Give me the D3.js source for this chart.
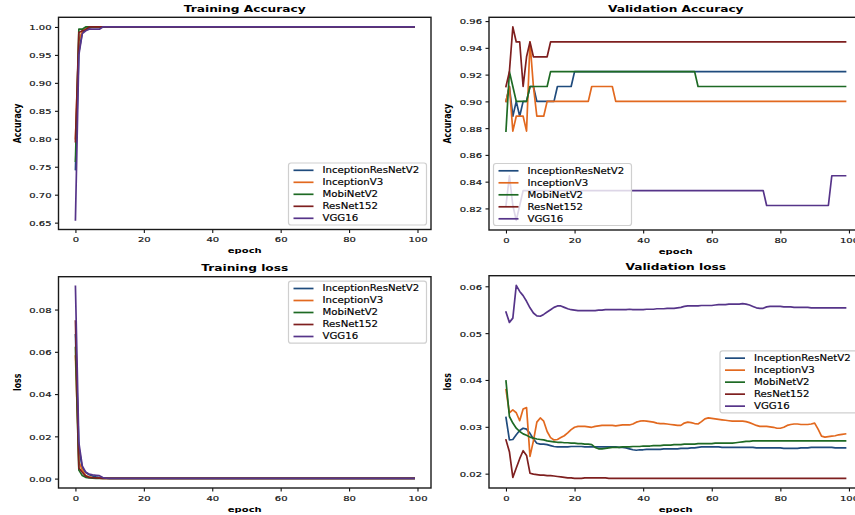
<!DOCTYPE html>
<html><head><meta charset="utf-8">
<script src="https://cdn.jsdelivr.net/npm/d3@7"></script>
<style>body{margin:0;background:#fff}svg{display:block}</style>
</head><body><svg id="c" width="855" height="515"></svg>
<script>
// ---------------- DATA ----------------
const epochs = d3.range(100);
const seriesNames = ["InceptionResNetV2", "InceptionV3", "MobiNetV2", "ResNet152", "VGG16"];
const seriesColors = ["#1f4b7d", "#e2691f", "#1e6a24", "#7e1f1f", "#563489"];
const xTickValues = [0, 20, 40, 60, 80, 100];
const trainAccTicks = [0.65, 0.70, 0.75, 0.80, 0.85, 0.90, 0.95, 1.00];
const valAccTicks = [0.82, 0.84, 0.86, 0.88, 0.90, 0.92, 0.94, 0.96];
const trainLossTicks = [0.00, 0.02, 0.04, 0.06, 0.08];
const valLossTicks = [0.02, 0.03, 0.04, 0.05, 0.06];

// Training accuracy
const trainAccIRV2 = [
0.745,0.955,0.990,0.995,0.998,1,1,1,1,1,
1,1,1,1,1,1,1,1,1,1, 1,1,1,1,1,1,1,1,1,1, 1,1,1,1,1,1,1,1,1,1,
1,1,1,1,1,1,1,1,1,1, 1,1,1,1,1,1,1,1,1,1, 1,1,1,1,1,1,1,1,1,1,
1,1,1,1,1,1,1,1,1,1, 1,1,1,1,1,1,1,1,1,1, 1,1,1,1,1,1,1,1,1,1];
const trainAccIV3 = [
0.800,0.975,0.993,0.997,1,1,1,1,1,1,
1,1,1,1,1,1,1,1,1,1, 1,1,1,1,1,1,1,1,1,1, 1,1,1,1,1,1,1,1,1,1,
1,1,1,1,1,1,1,1,1,1, 1,1,1,1,1,1,1,1,1,1, 1,1,1,1,1,1,1,1,1,1,
1,1,1,1,1,1,1,1,1,1, 1,1,1,1,1,1,1,1,1,1, 1,1,1,1,1,1,1,1,1,1];
const trainAccMob = [
0.760,0.996,0.996,1,1,1,1,1,1,1,
1,1,1,1,1,1,1,1,1,1, 1,1,1,1,1,1,1,1,1,1, 1,1,1,1,1,1,1,1,1,1,
1,1,1,1,1,1,1,1,1,1, 1,1,1,1,1,1,1,1,1,1, 1,1,1,1,1,1,1,1,1,1,
1,1,1,1,1,1,1,1,1,1, 1,1,1,1,1,1,1,1,1,1, 1,1,1,1,1,1,1,1,1,1];
const trainAccRes = [
0.795,0.990,0.993,0.995,1,1,1,1,1,1,
1,1,1,1,1,1,1,1,1,1, 1,1,1,1,1,1,1,1,1,1, 1,1,1,1,1,1,1,1,1,1,
1,1,1,1,1,1,1,1,1,1, 1,1,1,1,1,1,1,1,1,1, 1,1,1,1,1,1,1,1,1,1,
1,1,1,1,1,1,1,1,1,1, 1,1,1,1,1,1,1,1,1,1, 1,1,1,1,1,1,1,1,1,1];
const trainAccVGG = [
0.655,0.950,0.988,0.993,0.996,0.996,0.996,0.996,1,1,
1,1,1,1,1,1,1,1,1,1, 1,1,1,1,1,1,1,1,1,1, 1,1,1,1,1,1,1,1,1,1,
1,1,1,1,1,1,1,1,1,1, 1,1,1,1,1,1,1,1,1,1, 1,1,1,1,1,1,1,1,1,1,
1,1,1,1,1,1,1,1,1,1, 1,1,1,1,1,1,1,1,1,1, 1,1,1,1,1,1,1,1,1,1];

// Validation accuracy
const valAccIRV2 = [
0.9000,0.9111,0.8889,0.9000,0.8889,0.9000,0.9000,0.9111,0.9111,0.9000,
0.9000,0.9000,0.9000,0.9000,0.9000,0.9111,0.9111,0.9111,0.9111,0.9111,
0.9222,0.9222,0.9222,0.9222,0.9222,0.9222,0.9222,0.9222,0.9222,0.9222,
0.9222,0.9222,0.9222,0.9222,0.9222,0.9222,0.9222,0.9222,0.9222,0.9222,
0.9222,0.9222,0.9222,0.9222,0.9222,0.9222,0.9222,0.9222,0.9222,0.9222,
0.9222,0.9222,0.9222,0.9222,0.9222,0.9222,0.9222,0.9222,0.9222,0.9222,
0.9222,0.9222,0.9222,0.9222,0.9222,0.9222,0.9222,0.9222,0.9222,0.9222,
0.9222,0.9222,0.9222,0.9222,0.9222,0.9222,0.9222,0.9222,0.9222,0.9222,
0.9222,0.9222,0.9222,0.9222,0.9222,0.9222,0.9222,0.9222,0.9222,0.9222,
0.9222,0.9222,0.9222,0.9222,0.9222,0.9222,0.9222,0.9222,0.9222,0.9222];
const valAccIV3 = [
0.9000,0.9111,0.8778,0.8889,0.8889,0.8889,0.8778,0.9444,0.9111,0.8889,
0.8889,0.8889,0.9000,0.9000,0.9000,0.9000,0.9000,0.9000,0.9000,0.9000,
0.9000,0.9000,0.9000,0.9000,0.9000,0.9111,0.9111,0.9111,0.9111,0.9111,
0.9111,0.9111,0.9000,0.9000,0.9000,0.9000,0.9000,0.9000,0.9000,0.9000,
0.9000,0.9000,0.9000,0.9000,0.9000,0.9000,0.9000,0.9000,0.9000,0.9000,
0.9000,0.9000,0.9000,0.9000,0.9000,0.9000,0.9000,0.9000,0.9000,0.9000,
0.9000,0.9000,0.9000,0.9000,0.9000,0.9000,0.9000,0.9000,0.9000,0.9000,
0.9000,0.9000,0.9000,0.9000,0.9000,0.9000,0.9000,0.9000,0.9000,0.9000,
0.9000,0.9000,0.9000,0.9000,0.9000,0.9000,0.9000,0.9000,0.9000,0.9000,
0.9000,0.9000,0.9000,0.9000,0.9000,0.9000,0.9000,0.9000,0.9000,0.9000];
const valAccMob = [
0.8778,0.9222,0.9111,0.9000,0.9000,0.9000,0.9000,0.9111,0.9111,0.9111,
0.9111,0.9111,0.9111,0.9222,0.9222,0.9222,0.9222,0.9222,0.9222,0.9222,
0.9222,0.9222,0.9222,0.9222,0.9222,0.9222,0.9222,0.9222,0.9222,0.9222,
0.9222,0.9222,0.9222,0.9222,0.9222,0.9222,0.9222,0.9222,0.9222,0.9222,
0.9222,0.9222,0.9222,0.9222,0.9222,0.9222,0.9222,0.9222,0.9222,0.9222,
0.9222,0.9222,0.9222,0.9222,0.9222,0.9222,0.9111,0.9111,0.9111,0.9111,
0.9111,0.9111,0.9111,0.9111,0.9111,0.9111,0.9111,0.9111,0.9111,0.9111,
0.9111,0.9111,0.9111,0.9111,0.9111,0.9111,0.9111,0.9111,0.9111,0.9111,
0.9111,0.9111,0.9111,0.9111,0.9111,0.9111,0.9111,0.9111,0.9111,0.9111,
0.9111,0.9111,0.9111,0.9111,0.9111,0.9111,0.9111,0.9111,0.9111,0.9111];
const valAccRes = [
0.9111,0.9222,0.9556,0.9444,0.9444,0.9111,0.9333,0.9444,0.9333,0.9333,
0.9333,0.9333,0.9333,0.9444,0.9444,0.9444,0.9444,0.9444,0.9444,0.9444,
0.9444,0.9444,0.9444,0.9444,0.9444,0.9444,0.9444,0.9444,0.9444,0.9444,
0.9444,0.9444,0.9444,0.9444,0.9444,0.9444,0.9444,0.9444,0.9444,0.9444,
0.9444,0.9444,0.9444,0.9444,0.9444,0.9444,0.9444,0.9444,0.9444,0.9444,
0.9444,0.9444,0.9444,0.9444,0.9444,0.9444,0.9444,0.9444,0.9444,0.9444,
0.9444,0.9444,0.9444,0.9444,0.9444,0.9444,0.9444,0.9444,0.9444,0.9444,
0.9444,0.9444,0.9444,0.9444,0.9444,0.9444,0.9444,0.9444,0.9444,0.9444,
0.9444,0.9444,0.9444,0.9444,0.9444,0.9444,0.9444,0.9444,0.9444,0.9444,
0.9444,0.9444,0.9444,0.9444,0.9444,0.9444,0.9444,0.9444,0.9444,0.9444];
const valAccVGG = [
0.8222,0.8444,0.8222,0.8111,0.8222,0.8333,0.8333,0.8333,0.8333,0.8333,
0.8333,0.8333,0.8333,0.8333,0.8333,0.8333,0.8333,0.8333,0.8333,0.8333,
0.8333,0.8333,0.8333,0.8333,0.8333,0.8333,0.8333,0.8333,0.8333,0.8333,
0.8333,0.8333,0.8333,0.8333,0.8333,0.8333,0.8333,0.8333,0.8333,0.8333,
0.8333,0.8333,0.8333,0.8333,0.8333,0.8333,0.8333,0.8333,0.8333,0.8333,
0.8333,0.8333,0.8333,0.8333,0.8333,0.8333,0.8333,0.8333,0.8333,0.8333,
0.8333,0.8333,0.8333,0.8333,0.8333,0.8333,0.8333,0.8333,0.8333,0.8333,
0.8333,0.8333,0.8333,0.8333,0.8333,0.8333,0.8222,0.8222,0.8222,0.8222,
0.8222,0.8222,0.8222,0.8222,0.8222,0.8222,0.8222,0.8222,0.8222,0.8222,
0.8222,0.8222,0.8222,0.8222,0.8222,0.8444,0.8444,0.8444,0.8444,0.8444];

// Training loss
const trainLossIRV2 = [
0.068,0.015,0.005,0.003,0.0018,0.0012,0.0008,0.0005,0.0003,0.0002,
0.0001,0.0001,0.0001,0.0001,0.0001,0.0001,0.0001,0.0001,0.0001,0.0001,
0.0001,0.0001,0.0001,0.0001,0.0001,0.0001,0.0001,0.0001,0.0001,0.0001,
0.0001,0.0001,0.0001,0.0001,0.0001,0.0001,0.0001,0.0001,0.0001,0.0001,
0.0001,0.0001,0.0001,0.0001,0.0001,0.0001,0.0001,0.0001,0.0001,0.0001,
0.0001,0.0001,0.0001,0.0001,0.0001,0.0001,0.0001,0.0001,0.0001,0.0001,
0.0001,0.0001,0.0001,0.0001,0.0001,0.0001,0.0001,0.0001,0.0001,0.0001,
0.0001,0.0001,0.0001,0.0001,0.0001,0.0001,0.0001,0.0001,0.0001,0.0001,
0.0001,0.0001,0.0001,0.0001,0.0001,0.0001,0.0001,0.0001,0.0001,0.0001,
0.0001,0.0001,0.0001,0.0001,0.0001,0.0001,0.0001,0.0001,0.0001,0.0001];
const trainLossIV3 = [
0.058,0.008,0.004,0.0015,0.0008,0.0005,0.0003,0.0002,0.0001,0.0001,
0.0001,0.0001,0.0001,0.0001,0.0001,0.0001,0.0001,0.0001,0.0001,0.0001,
0.0001,0.0001,0.0001,0.0001,0.0001,0.0001,0.0001,0.0001,0.0001,0.0001,
0.0001,0.0001,0.0001,0.0001,0.0001,0.0001,0.0001,0.0001,0.0001,0.0001,
0.0001,0.0001,0.0001,0.0001,0.0001,0.0001,0.0001,0.0001,0.0001,0.0001,
0.0001,0.0001,0.0001,0.0001,0.0001,0.0001,0.0001,0.0001,0.0001,0.0001,
0.0001,0.0001,0.0001,0.0001,0.0001,0.0001,0.0001,0.0001,0.0001,0.0001,
0.0001,0.0001,0.0001,0.0001,0.0001,0.0001,0.0001,0.0001,0.0001,0.0001,
0.0001,0.0001,0.0001,0.0001,0.0001,0.0001,0.0001,0.0001,0.0001,0.0001,
0.0001,0.0001,0.0001,0.0001,0.0001,0.0001,0.0001,0.0001,0.0001,0.0001];
const trainLossMob = [
0.062,0.004,0.0015,0.0006,0.0003,0.0002,0.0001,0.0001,0.0001,0.0001,
0.0001,0.0001,0.0001,0.0001,0.0001,0.0001,0.0001,0.0001,0.0001,0.0001,
0.0001,0.0001,0.0001,0.0001,0.0001,0.0001,0.0001,0.0001,0.0001,0.0001,
0.0001,0.0001,0.0001,0.0001,0.0001,0.0001,0.0001,0.0001,0.0001,0.0001,
0.0001,0.0001,0.0001,0.0001,0.0001,0.0001,0.0001,0.0001,0.0001,0.0001,
0.0001,0.0001,0.0001,0.0001,0.0001,0.0001,0.0001,0.0001,0.0001,0.0001,
0.0001,0.0001,0.0001,0.0001,0.0001,0.0001,0.0001,0.0001,0.0001,0.0001,
0.0001,0.0001,0.0001,0.0001,0.0001,0.0001,0.0001,0.0001,0.0001,0.0001,
0.0001,0.0001,0.0001,0.0001,0.0001,0.0001,0.0001,0.0001,0.0001,0.0001,
0.0001,0.0001,0.0001,0.0001,0.0001,0.0001,0.0001,0.0001,0.0001,0.0001];
const trainLossRes = [
0.0745,0.005,0.003,0.0012,0.0006,0.0004,0.0003,0.0002,0.0001,0.0001,
0.0001,0.0001,0.0001,0.0001,0.0001,0.0001,0.0001,0.0001,0.0001,0.0001,
0.0001,0.0001,0.0001,0.0001,0.0001,0.0001,0.0001,0.0001,0.0001,0.0001,
0.0001,0.0001,0.0001,0.0001,0.0001,0.0001,0.0001,0.0001,0.0001,0.0001,
0.0001,0.0001,0.0001,0.0001,0.0001,0.0001,0.0001,0.0001,0.0001,0.0001,
0.0001,0.0001,0.0001,0.0001,0.0001,0.0001,0.0001,0.0001,0.0001,0.0001,
0.0001,0.0001,0.0001,0.0001,0.0001,0.0001,0.0001,0.0001,0.0001,0.0001,
0.0001,0.0001,0.0001,0.0001,0.0001,0.0001,0.0001,0.0001,0.0001,0.0001,
0.0001,0.0001,0.0001,0.0001,0.0001,0.0001,0.0001,0.0001,0.0001,0.0001,
0.0001,0.0001,0.0001,0.0001,0.0001,0.0001,0.0001,0.0001,0.0001,0.0001];
const trainLossVGG = [
0.091,0.017,0.006,0.003,0.0022,0.0018,0.0016,0.0014,0.0005,0.0002,
0.0001,0.0001,0.0001,0.0001,0.0001,0.0001,0.0001,0.0001,0.0001,0.0001,
0.0001,0.0001,0.0001,0.0001,0.0001,0.0001,0.0001,0.0001,0.0001,0.0001,
0.0001,0.0001,0.0001,0.0001,0.0001,0.0001,0.0001,0.0001,0.0001,0.0001,
0.0001,0.0001,0.0001,0.0001,0.0001,0.0001,0.0001,0.0001,0.0001,0.0001,
0.0001,0.0001,0.0001,0.0001,0.0001,0.0001,0.0001,0.0001,0.0001,0.0001,
0.0001,0.0001,0.0001,0.0001,0.0001,0.0001,0.0001,0.0001,0.0001,0.0001,
0.0001,0.0001,0.0001,0.0001,0.0001,0.0001,0.0001,0.0001,0.0001,0.0001,
0.0001,0.0001,0.0001,0.0001,0.0001,0.0001,0.0001,0.0001,0.0001,0.0001,
0.0001,0.0001,0.0001,0.0001,0.0001,0.0001,0.0001,0.0001,0.0001,0.0001];

// Validation loss
const valLossIRV2 = [
0.0320,0.0272,0.0273,0.0283,0.0292,0.0297,0.0295,0.0286,0.0274,0.0265,
0.0263,0.0263,0.0262,0.0260,0.0258,0.0257,0.0257,0.0257,0.0257,0.0258,
0.0258,0.0258,0.0258,0.0257,0.0257,0.0257,0.0257,0.0257,0.0257,0.0257,
0.0257,0.0257,0.0257,0.0256,0.0256,0.0255,0.0253,0.0251,0.0250,0.0251,
0.0251,0.0252,0.0252,0.0252,0.0252,0.0252,0.0253,0.0253,0.0253,0.0253,
0.0253,0.0254,0.0254,0.0254,0.0255,0.0255,0.0256,0.0257,0.0257,0.0257,
0.0257,0.0257,0.0257,0.0256,0.0256,0.0256,0.0256,0.0256,0.0256,0.0256,
0.0256,0.0256,0.0256,0.0255,0.0255,0.0255,0.0255,0.0255,0.0255,0.0255,
0.0255,0.0254,0.0254,0.0254,0.0254,0.0254,0.0255,0.0255,0.0255,0.0256,
0.0256,0.0256,0.0256,0.0256,0.0256,0.0256,0.0255,0.0255,0.0255,0.0255];
const valLossIV3 = [
0.0379,0.0330,0.0336,0.0330,0.0313,0.0338,0.0341,0.0237,0.0270,0.0310,
0.0319,0.0312,0.0290,0.0277,0.0272,0.0273,0.0277,0.0281,0.0287,0.0294,
0.0299,0.0301,0.0301,0.0301,0.0300,0.0299,0.0301,0.0302,0.0303,0.0303,
0.0303,0.0303,0.0302,0.0303,0.0304,0.0304,0.0304,0.0306,0.0310,0.0312,
0.0313,0.0312,0.0311,0.0310,0.0308,0.0307,0.0307,0.0306,0.0305,0.0304,
0.0303,0.0303,0.0308,0.0310,0.0309,0.0307,0.0306,0.0311,0.0317,0.0319,
0.0318,0.0317,0.0316,0.0315,0.0314,0.0313,0.0312,0.0312,0.0312,0.0312,
0.0311,0.0309,0.0306,0.0303,0.0301,0.0301,0.0301,0.0300,0.0299,0.0297,
0.0297,0.0299,0.0303,0.0305,0.0306,0.0306,0.0305,0.0305,0.0305,0.0306,
0.0308,0.0295,0.0280,0.0278,0.0279,0.0280,0.0281,0.0283,0.0284,0.0285];
const valLossMob = [
0.0398,0.0322,0.0308,0.0297,0.0290,0.0285,0.0282,0.0278,0.0276,0.0274,
0.0273,0.0272,0.0270,0.0269,0.0268,0.0267,0.0267,0.0266,0.0266,0.0265,
0.0265,0.0264,0.0264,0.0263,0.0263,0.0262,0.0256,0.0253,0.0253,0.0254,
0.0255,0.0256,0.0256,0.0256,0.0257,0.0257,0.0257,0.0258,0.0258,0.0258,
0.0259,0.0259,0.0259,0.0260,0.0260,0.0260,0.0261,0.0261,0.0261,0.0262,
0.0262,0.0262,0.0263,0.0263,0.0263,0.0263,0.0264,0.0264,0.0264,0.0264,
0.0264,0.0265,0.0265,0.0265,0.0265,0.0265,0.0265,0.0266,0.0267,0.0268,
0.0269,0.0269,0.0270,0.0270,0.0270,0.0270,0.0270,0.0270,0.0270,0.0270,
0.0270,0.0270,0.0270,0.0270,0.0270,0.0270,0.0270,0.0270,0.0270,0.0270,
0.0270,0.0270,0.0270,0.0270,0.0270,0.0270,0.0270,0.0270,0.0270,0.0270];
const valLossRes = [
0.0272,0.0247,0.0192,0.0212,0.0232,0.0249,0.0239,0.0201,0.0199,0.0198,
0.0197,0.0197,0.0196,0.0196,0.0195,0.0194,0.0193,0.0192,0.0191,0.0191,
0.0190,0.0190,0.0190,0.0191,0.0191,0.0191,0.0191,0.0191,0.0191,0.0191,
0.0190,0.0190,0.0190,0.0190,0.0190,0.0190,0.0190,0.0190,0.0190,0.0190,
0.0190,0.0190,0.0190,0.0190,0.0190,0.0190,0.0190,0.0190,0.0190,0.0190,
0.0190,0.0190,0.0190,0.0190,0.0190,0.0190,0.0190,0.0190,0.0190,0.0190,
0.0190,0.0190,0.0190,0.0190,0.0190,0.0190,0.0190,0.0190,0.0190,0.0190,
0.0190,0.0190,0.0190,0.0190,0.0190,0.0190,0.0190,0.0190,0.0190,0.0190,
0.0190,0.0190,0.0190,0.0190,0.0190,0.0190,0.0190,0.0190,0.0190,0.0190,
0.0190,0.0190,0.0190,0.0190,0.0190,0.0190,0.0190,0.0190,0.0190,0.0190];
const valLossVGG = [
0.0545,0.0523,0.0532,0.0602,0.0589,0.0580,0.0568,0.0554,0.0543,0.0537,
0.0536,0.0540,0.0545,0.0550,0.0555,0.0558,0.0558,0.0555,0.0552,0.0550,
0.0549,0.0548,0.0548,0.0548,0.0548,0.0548,0.0548,0.0549,0.0549,0.0550,
0.0550,0.0550,0.0550,0.0550,0.0550,0.0550,0.0551,0.0550,0.0550,0.0550,
0.0550,0.0551,0.0551,0.0551,0.0552,0.0552,0.0552,0.0553,0.0553,0.0553,
0.0554,0.0555,0.0557,0.0558,0.0558,0.0558,0.0558,0.0559,0.0559,0.0559,
0.0559,0.0560,0.0561,0.0561,0.0561,0.0562,0.0562,0.0562,0.0562,0.0563,
0.0562,0.0560,0.0557,0.0554,0.0553,0.0553,0.0556,0.0557,0.0557,0.0557,
0.0557,0.0556,0.0556,0.0556,0.0555,0.0555,0.0555,0.0555,0.0555,0.0554,
0.0554,0.0554,0.0554,0.0554,0.0554,0.0554,0.0554,0.0554,0.0554,0.0554];

// ---------------- LAYOUT ----------------
const FONT = "'DejaVu Sans', sans-serif";
const SY = 0.78; // vertical squash of the reference image
const panels = [
  {id:"ta", title:"Training Accuracy", ylabel:"Accuracy",
   series:[trainAccIRV2,trainAccIV3,trainAccMob,trainAccRes,trainAccVGG], ticks:trainAccTicks,
   left:58.5, right:431, top:17.3, bottom:229.5, ylabX:20.5, legend:"lower right"},
  {id:"va", title:"Validation Accuracy", ylabel:"Accuracy",
   series:[valAccIRV2,valAccIV3,valAccMob,valAccRes,valAccVGG], ticks:valAccTicks,
   left:489, right:862.5, top:17.3, bottom:230, ylabX:450.5, legend:"lower left"},
  {id:"tl", title:"Training loss", ylabel:"loss",
   series:[trainLossIRV2,trainLossIV3,trainLossMob,trainLossRes,trainLossVGG], ticks:trainLossTicks,
   left:58.5, right:431, top:276.7, bottom:488, ylabX:20.5, legend:"upper right"},
  {id:"vl", title:"Validation loss", ylabel:"loss",
   series:[valLossIRV2,valLossIV3,valLossMob,valLossRes,valLossVGG], ticks:valLossTicks,
   left:489, right:862.5, top:275.7, bottom:488, ylabX:450.5, legend:"center right"}
];

const svg = d3.select("#c");
svg.append("rect").attr("width",855).attr("height",515).attr("fill","#fff");

function hText(g, x, y, s, size, weight, anchor) {
  return g.append("text")
    .attr("transform", `translate(${x},${y}) scale(1,${SY})`)
    .attr("text-anchor", anchor || "middle")
    .attr("font-family", FONT).attr("font-size", size)
    .attr("font-weight", weight || "normal").attr("fill", "#000").text(s);
}

function drawPanel(p) {
  const all = p.series.flat();
  const [mn, mx] = d3.extent(all);
  const pad = (mx - mn) * 0.05;
  const x = d3.scaleLinear().domain([-4.95, 103.95]).range([p.left, p.right]);
  const y = d3.scaleLinear().domain([mn - pad, mx + pad]).range([p.bottom, p.top]);
  const g = svg.append("g");

  g.append("clipPath").attr("id", "clip-" + p.id).append("rect")
    .attr("x", p.left).attr("y", p.top).attr("width", p.right - p.left).attr("height", p.bottom - p.top);
  const line = d3.line().x((d, i) => x(epochs[i])).y(d => y(d));
  const lg = g.append("g").attr("clip-path", `url(#clip-${p.id})`);
  p.series.forEach((s, k) => {
    lg.append("path").attr("d", line(s)).attr("fill", "none")
      .attr("stroke", seriesColors[k]).attr("stroke-width", 1.7)
      .attr("stroke-linejoin", "round").attr("stroke-linecap", "square");
  });

  // x axis
  const xa = g.append("g").attr("transform", `translate(0,${p.bottom})`)
    .call(d3.axisBottom(x).tickValues(xTickValues).tickSize(3.5).tickSizeOuter(0).tickFormat(d3.format("d")));
  xa.select(".domain").remove();
  xa.selectAll(".tick line").attr("stroke", "#111").attr("stroke-width", 1.1);
  xa.selectAll(".tick text").attr("y", null).attr("dy", null)
    .attr("transform", `translate(0,12.9) scale(1,${SY})`)
    .attr("font-family", FONT).attr("font-size", 10).attr("fill", "#111")
    .attr("stroke", "#111").attr("stroke-width", 0.25);

  // y axis
  const ya = g.append("g").attr("transform", `translate(${p.left},0)`)
    .call(d3.axisLeft(y).tickValues(p.ticks).tickSize(3.5).tickSizeOuter(0).tickFormat(d3.format(".2f")));
  ya.select(".domain").remove();
  ya.selectAll(".tick line").attr("stroke", "#111").attr("stroke-width", 1.1);
  ya.selectAll(".tick text").attr("x", null).attr("dy", null)
    .attr("transform", `translate(-7,2.9) scale(1,${SY})`)
    .attr("font-family", FONT).attr("font-size", 10).attr("fill", "#111")
    .attr("stroke", "#111").attr("stroke-width", 0.25);

  // frame
  g.append("rect").attr("x", p.left).attr("y", p.top)
    .attr("width", p.right - p.left).attr("height", p.bottom - p.top)
    .attr("fill", "none").attr("stroke", "#1a1a1a").attr("stroke-width", 1.4);

  // title & labels
  const cx = (p.left + p.right) / 2;
  hText(g, cx, p.top - 5.3, p.title, 12.2, "bold");
  hText(g, cx, p.bottom + 23.5, "epoch", 10, "bold");
  g.append("text")
    .attr("transform", `translate(${p.ylabX},${(p.top + p.bottom) / 2}) rotate(-90) scale(${SY},1)`)
    .attr("text-anchor", "middle").attr("font-family", FONT).attr("font-size", 10)
    .attr("font-weight", "bold").attr("fill", "#000").text(p.ylabel);

  // legend
  const w = 138, h = 62, bp = 4.5;
  let lx, ly;
  if (p.legend === "lower right") { lx = p.right - bp - w; ly = p.bottom - bp - h; }
  else if (p.legend === "lower left") { lx = p.left + bp; ly = p.bottom - bp - h; }
  else if (p.legend === "upper right") { lx = p.right - bp - w; ly = p.top + bp; }
  else { lx = p.right - bp - w; ly = (p.top + p.bottom) / 2 - h / 2; }
  const L = g.append("g");
  L.append("rect").attr("x", lx).attr("y", ly).attr("width", w).attr("height", h).attr("rx", 2.5)
    .attr("fill", "#fff").attr("fill-opacity", 0.8).attr("stroke", "#cfcfcf").attr("stroke-width", 1.2);
  seriesNames.forEach((n, k) => {
    const cy = ly + 7.3 + 12 * k;
    L.append("line").attr("x1", lx + 5).attr("x2", lx + 25).attr("y1", cy).attr("y2", cy)
      .attr("stroke", seriesColors[k]).attr("stroke-width", 1.7);
    hText(L, lx + 34, cy + 2.9, n, 10.2, "normal", "start")
      .attr("stroke", "#000").attr("stroke-width", 0.2);
  });
}

panels.forEach(drawPanel);
</script>
</body></html>
